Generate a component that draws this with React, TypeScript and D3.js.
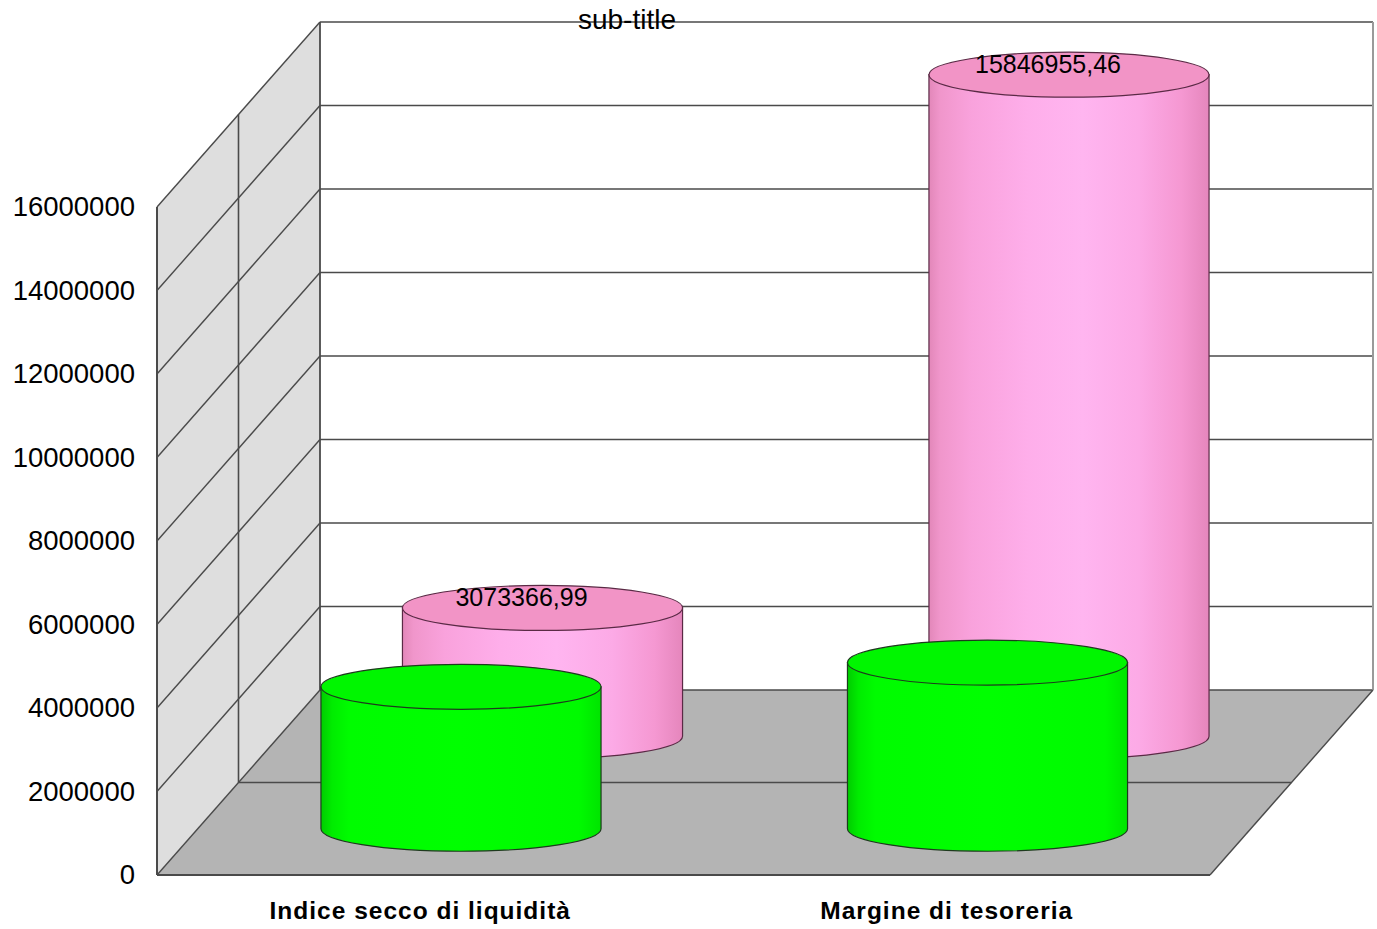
import React from "react";
import * as d3 from "d3";

const categories = ["Indice secco di liquidità", "Margine di tesoreria"];
const frontValues = [3400000, 3980000]; // green series (front row)
const backValues = [3073366.99, 15846955.46]; // pink series (back row)
const backLabels = ["3073366,99", "15846955,46"];
const yTicks = [0, 2000000, 4000000, 6000000, 8000000, 10000000, 12000000, 14000000, 16000000];
const subTitle = "sub-title";

const W = 1377;
const H = 929;
const left = 157;
const right = 1210;
const bottom = 875;
const top = 207;
const DX = 163;
const DY = -185;
const FONT = "'Liberation Sans', Arial, Helvetica, sans-serif";

export default function App() {
  const y = d3.scaleLinear().domain([0, 16000000]).range([bottom, top]);
  const x = d3.scaleBand<string>().domain(categories).range([left, right]);
  const bw = x.bandwidth();
  const rx = bw * 0.266;
  const ry = 22.5;
  const lineColor = "#4a4a4a";

  const off = (d: number) => ({ dx: DX * d, dy: DY * d });

  const cylinder = (cat: string, v: number, depth: number, key: string, grad: string, topFill: string, stroke: string) => {
    const o = off(depth);
    const cx = (x(cat) as number) + bw / 2 + o.dx;
    const yBot = y(0) + o.dy;
    const yTop = y(v) + o.dy;
    const path = `M${cx - rx},${yTop} L${cx - rx},${yBot} A${rx},${ry} 0 0 0 ${cx + rx},${yBot} L${cx + rx},${yTop} Z`;
    return (
      <g key={key}>
        <path d={path} fill={`url(#${grad})`} stroke={stroke} strokeWidth={1.2} />
        <ellipse cx={cx} cy={yTop} rx={rx} ry={ry} fill={topFill} stroke={stroke} strokeWidth={1.2} />
      </g>
    );
  };

  const b = off(1);
  const m = off(0.5);

  return (
    <svg width={W} height={H} style={{ position: "absolute", left: 0, top: 0, background: "#fff" }}>
      <defs>
        <linearGradient id="pinkGrad" x1="0" x2="1" y1="0" y2="0">
          <stop offset="0%" stopColor="#e287b9" />
          <stop offset="4%" stopColor="#f096cb" />
          <stop offset="15%" stopColor="#f9a2dc" />
          <stop offset="35%" stopColor="#feaeea" />
          <stop offset="55%" stopColor="#ffb5f0" />
          <stop offset="75%" stopColor="#fcaae6" />
          <stop offset="90%" stopColor="#f598d2" />
          <stop offset="100%" stopColor="#e586bc" />
        </linearGradient>
        <linearGradient id="greenGrad" x1="0" x2="1" y1="0" y2="0">
          <stop offset="0%" stopColor="#00cc00" />
          <stop offset="4%" stopColor="#00ec00" />
          <stop offset="10%" stopColor="#00fc00" />
          <stop offset="50%" stopColor="#00ff00" />
          <stop offset="92%" stopColor="#00fa00" />
          <stop offset="100%" stopColor="#00e400" />
        </linearGradient>
      </defs>

      {/* back wall */}
      <rect x={left + b.dx} y={top + b.dy} width={right - left} height={bottom - top} fill="#ffffff" />
      {/* side wall */}
      <polygon
        points={`${left},${top} ${left + b.dx},${top + b.dy} ${left + b.dx},${bottom + b.dy} ${left},${bottom}`}
        fill="#dedede"
      />
      {/* floor */}
      <polygon
        points={`${left},${bottom} ${left + b.dx},${bottom + b.dy} ${right + b.dx},${bottom + b.dy} ${right},${bottom}`}
        fill="#b4b4b4"
      />

      {/* gridlines */}
      {yTicks.map((t) => (
        <g key={"g" + t}>
          <line x1={left + b.dx} x2={right + b.dx} y1={y(t) + b.dy} y2={y(t) + b.dy} stroke={lineColor} strokeWidth={1.6} />
          <line x1={left} x2={left + b.dx} y1={y(t)} y2={y(t) + b.dy} stroke={lineColor} strokeWidth={1.4} />
        </g>
      ))}
      {/* side wall vertical lines */}
      <line x1={left} x2={left} y1={top} y2={bottom} stroke={lineColor} strokeWidth={2} />
      <line x1={left + m.dx} x2={left + m.dx} y1={top + m.dy} y2={bottom + m.dy} stroke={lineColor} strokeWidth={1.6} />
      <line x1={left + b.dx} x2={left + b.dx} y1={top + b.dy} y2={bottom + b.dy} stroke={lineColor} strokeWidth={1.8} />
      {/* back wall right edge */}
      <line x1={right + b.dx} x2={right + b.dx} y1={top + b.dy} y2={bottom + b.dy} stroke="#9a9a9a" strokeWidth={2} />
      {/* floor lines */}
      <line x1={left + m.dx} x2={right + m.dx} y1={bottom + m.dy} y2={bottom + m.dy} stroke={lineColor} strokeWidth={1.6} />
      <line x1={left} x2={right} y1={bottom} y2={bottom} stroke={lineColor} strokeWidth={2} />
      <line x1={right} x2={right + b.dx} y1={bottom} y2={bottom + b.dy} stroke={lineColor} strokeWidth={1.4} />

      {/* back row cylinders (pink) */}
      {categories.map((c, i) => cylinder(c, backValues[i], 0.75, "p" + i, "pinkGrad", "#f294c6", "#5a2a45"))}
      {/* front row cylinders (green) */}
      {categories.map((c, i) => cylinder(c, frontValues[i], 0.25, "gr" + i, "greenGrad", "#00f600", "#1e3a1e"))}

      {/* value labels */}
      {categories.map((c, i) => {
        const o = off(0.75);
        const cx = (x(c) as number) + bw / 2 + o.dx - 21;
        return (
          <text key={"v" + i} x={cx} y={y(backValues[i]) + o.dy - 1.5} textAnchor="middle" fontFamily={FONT} fontSize={25} fill="#000">
            {backLabels[i]}
          </text>
        );
      })}

      {/* y axis labels */}
      {yTicks.map((t) => (
        <text key={"y" + t} x={135} y={y(t) + 9} textAnchor="end" fontFamily={FONT} fontSize={27.5} fill="#000">
          {String(t)}
        </text>
      ))}

      {/* category labels */}
      {categories.map((c) => (
        <text
          key={"c" + c}
          x={(x(c) as number) + bw / 2}
          y={919}
          textAnchor="middle"
          fontFamily={FONT}
          fontSize={24.5}
          fontWeight="bold"
          letterSpacing={1.0}
          fill="#000"
        >
          {c}
        </text>
      ))}

      {/* sub-title */}
      <text x={627} y={29} textAnchor="middle" fontFamily={FONT} fontSize={28} fill="#000">
        {subTitle}
      </text>
    </svg>
  );
}
